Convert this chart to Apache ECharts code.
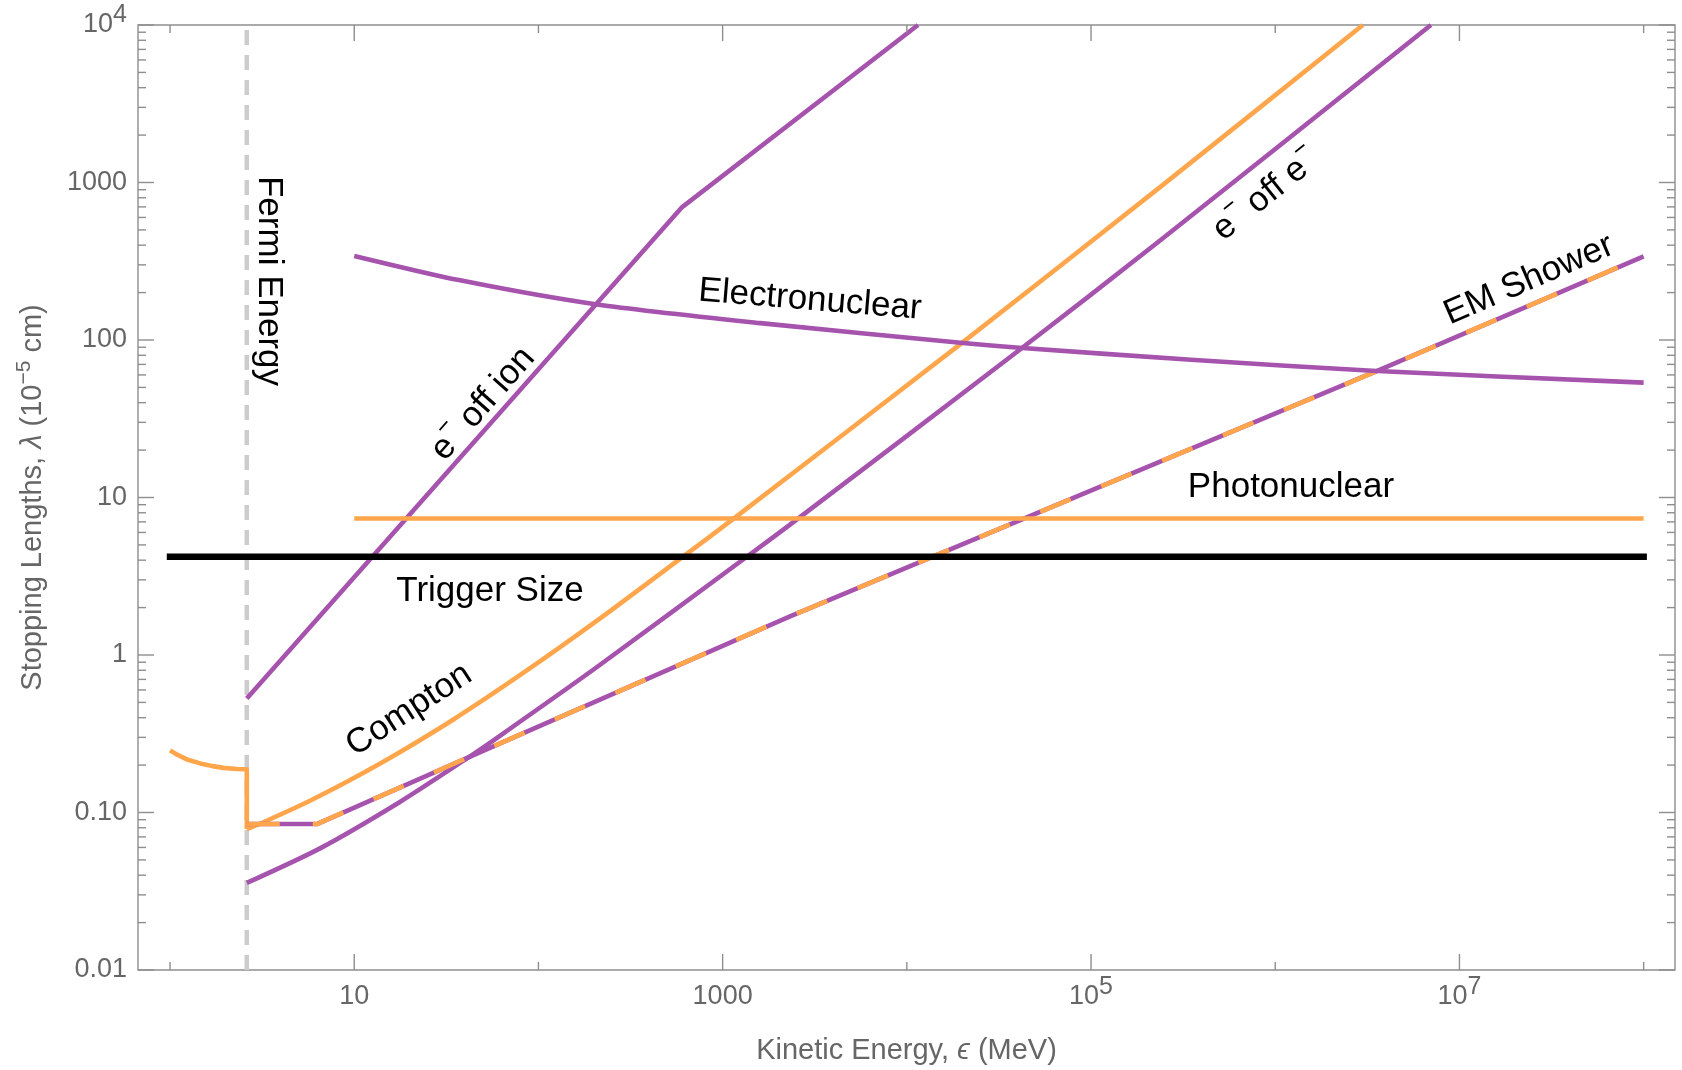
<!DOCTYPE html>
<html>
<head>
<meta charset="utf-8">
<script src="https://cdn.jsdelivr.net/npm/echarts@6/dist/echarts.min.js"></script>
<style>
  html, body { margin: 0; padding: 0; background: #ffffff; }
  #chart { width: 1682px; height: 1070px; }
</style>
</head>
<body>
<div id="chart"></div>
<script>
// Stopping lengths (units of 1e-5 cm) versus kinetic energy (MeV)

// axis extents
const xRange = [0.67, 1.48e8];
const yRange = [0.01, 1e4];

// tick positions and labels
const xMajorTicks = [10, 1000, 1e5, 1e7];
const xMajorLabels = ['10', '1000', '10{sup|5}', '10{sup|7}'];
const xMinorTicks = [1, 100, 1e4, 1e6, 1e8];
const yMajorTicks = [0.01, 0.1, 1, 10, 100, 1000, 1e4];
const yMajorLabels = ['0.01', '0.10', '1', '10', '100', '1000', '10{sup|4}'];
const yMinorMultipliers = [2, 3, 4, 5, 6, 7, 8, 9];

// Fermi energy marker
const fermiEnergy = 2.61;

// trigger size (flat)
const triggerEnergy = [1, 1e8];
const triggerLength = [4.2, 4.2];

// photonuclear (flat)
const photonuclearEnergy = [10, 1e8];
const photonuclearLength = [7.35, 7.35];

// electronuclear
const electronuclearEnergy = [10, 37, 208, 1600, 2.02e4, 4.07e4, 3.49e5, 3.35e6, 1e8];
const electronuclearLength = [342, 240, 168, 128, 95.7, 89.3, 75, 63.8, 53.6];

// e- off ion
const ionEnergy = [2.61, 603, 1.15e4];
const ionLength = [0.53, 698, 1e4];

// photon below the Fermi energy, dropping at the Fermi energy
const photonLowEnergy = [1, 1.1, 1.25, 1.46, 1.7, 1.95, 2.3, 2.61, 2.61];
const photonLowLength = [0.248, 0.232, 0.216, 0.205, 0.197, 0.192, 0.189, 0.188, 0.0785];

// Compton
const comptonEnergy = [2.61, 3.13, 5.86, 14.3, 34.9, 85.3, 208, 582, 1138, 2.05e4, 2.37e5, 2.99e6];
const comptonLength = [0.0785, 0.0855, 0.120, 0.2094, 0.3926, 0.789, 1.652, 4.046, 7.29, 98.4, 935, 1.0e4];

// e- off e-
const eeEnergy = [2.61, 6.52, 17.7, 40, 61.8, 208, 1358, 2323, 4.1e4, 2.37e5, 7.0e6];
const eeLength = [0.0357, 0.0592, 0.1167, 0.2168, 0.307, 0.839, 4.22, 6.73, 86.7, 428, 1.0e4];

// EM shower
const emEnergy = [2.61, 6.27, 85.3, 2323, 3.74e6, 1e8];
const emLength = [0.0845, 0.0845, 0.324, 1.76, 65, 340];

const PURPLE = '#a653ae';
const ORANGE = '#ffa64d';
const FRAME = '#8e8e8e';
const LABEL_GREY = '#666666';
const FONT = '"Liberation Sans", Arial, sans-serif';
const CURVE_W = 4.6;

const pairs = (xs, ys) => xs.map((x, i) => [x, ys[i]]);

// tick records: [x, y, kind, labelIndex]; kind 0 x-major, 1 x-minor, 2 y-major, 3 y-minor
const tickData = [];
xMajorTicks.forEach((v, i) => tickData.push([v, yRange[0], 0, i]));
xMinorTicks.forEach((v) => tickData.push([v, yRange[0], 1, -1]));
yMajorTicks.forEach((v, i) => tickData.push([xRange[0], v, 2, i]));
yMajorTicks.slice(0, -1).forEach((d) => {
  yMinorMultipliers.forEach((m) => tickData.push([xRange[0], m * d, 3, -1]));
});

const tickRich = {
  sup: { fontSize: 25, fontFamily: FONT, color: LABEL_GREY, padding: [0, 0, 20, 0] }
};

function renderTick(params, api) {
  const cs = params.coordSys;
  const kind = api.value(2);
  const idx = api.value(3);
  const p = api.coord([api.value(0), api.value(1)]);
  const len = (kind === 0 || kind === 2) ? 16 : 8;
  const style = { stroke: FRAME, lineWidth: 1.4 };
  const kids = [];
  if (kind < 2) {
    const x = p[0];
    const yb = cs.y + cs.height;
    const yt = cs.y;
    kids.push({ type: 'line', shape: { x1: x, y1: yb, x2: x, y2: yb - len }, style });
    kids.push({ type: 'line', shape: { x1: x, y1: yt, x2: x, y2: yt + len }, style });
    if (kind === 0) {
      kids.push({
        type: 'text', x: x, y: yb + 27,
        style: {
          text: xMajorLabels[idx], fill: LABEL_GREY, font: '27px ' + FONT,
          align: 'center', verticalAlign: 'middle', rich: tickRich
        }
      });
    }
  } else {
    const y = p[1];
    const xl = cs.x;
    const xr = cs.x + cs.width;
    kids.push({ type: 'line', shape: { x1: xl, y1: y, x2: xl + len, y2: y }, style });
    kids.push({ type: 'line', shape: { x1: xr, y1: y, x2: xr - len, y2: y }, style });
    if (kind === 2) {
      kids.push({
        type: 'text', x: xl - 11, y: y,
        style: {
          text: yMajorLabels[idx], fill: LABEL_GREY, font: '27px ' + FONT,
          align: 'right', verticalAlign: 'middle', rich: tickRich
        }
      });
    }
  }
  return { type: 'group', children: kids };
}

function lineSeries(name, data, color, width, extra) {
  return Object.assign({
    name: name,
    type: 'line',
    data: data,
    symbol: 'none',
    clip: true,
    silent: true,
    lineStyle: { color: color, width: width, cap: 'butt', join: 'round' }
  }, extra || {});
}

const smoothCurve = { smooth: 0.25 };

const annotationRich = {
  sup: { fontSize: 24, fontFamily: FONT, color: '#000', padding: [0, 0, 28, 0] }
};

function annotation(text, x, y, deg) {
  return {
    type: 'text',
    x: x, y: y,
    rotation: deg * Math.PI / 180,
    silent: true,
    z: 100,
    style: {
      text: text, fill: '#000', font: '35px ' + FONT,
      align: 'center', verticalAlign: 'middle', rich: annotationRich
    }
  };
}

const chart = echarts.init(document.getElementById('chart'), null, { renderer: 'canvas' });

chart.setOption({
  animation: false,
  backgroundColor: '#ffffff',
  grid: {
    left: 138, top: 25, width: 1537, height: 951,
    show: true, borderColor: FRAME, borderWidth: 1.4, backgroundColor: 'transparent'
  },
  xAxis: {
    type: 'log', logBase: 10, min: xRange[0], max: xRange[1],
    axisLine: { show: false }, axisTick: { show: false },
    axisLabel: { show: false }, splitLine: { show: false },
    name: 'Kinetic Energy, {it|ϵ} (MeV)',
    nameLocation: 'middle', nameGap: 66,
    nameTextStyle: {
      fontSize: 29, fontFamily: FONT, color: LABEL_GREY,
      rich: { it: { fontSize: 29, fontFamily: FONT, color: LABEL_GREY, fontStyle: 'italic' } }
    }
  },
  yAxis: {
    type: 'log', logBase: 10, min: yRange[0], max: yRange[1],
    axisLine: { show: false }, axisTick: { show: false },
    axisLabel: { show: false }, splitLine: { show: false },
    name: 'Stopping Lengths, {it|λ} (10{sup|−5} cm)',
    nameLocation: 'middle', nameGap: 87,
    nameTextStyle: {
      fontSize: 29, fontFamily: FONT, color: LABEL_GREY,
      rich: {
        it: { fontSize: 29, fontFamily: FONT, color: LABEL_GREY, fontStyle: 'italic' },
        sup: { fontSize: 21, fontFamily: FONT, color: LABEL_GREY, padding: [0, 0, 16, 0] }
      }
    }
  },
  series: [
    lineSeries('Fermi Energy', pairs([fermiEnergy, fermiEnergy], yRange), '#cccccc', 4.5,
      { lineStyle: { color: '#cccccc', width: 4.5, type: [15, 10], cap: 'butt' } }),
    lineSeries('e- off ion', pairs(ionEnergy, ionLength), PURPLE, CURVE_W),
    lineSeries('Photon below Fermi', pairs(photonLowEnergy, photonLowLength), ORANGE, CURVE_W),
    lineSeries('Compton', pairs(comptonEnergy, comptonLength), ORANGE, CURVE_W, smoothCurve),
    lineSeries('e- off e-', pairs(eeEnergy, eeLength), PURPLE, CURVE_W, smoothCurve),
    lineSeries('EM Shower', pairs(emEnergy, emLength), PURPLE, CURVE_W),
    lineSeries('EM Shower (photon)', pairs(emEnergy, emLength), ORANGE, CURVE_W,
      { lineStyle: { color: ORANGE, width: CURVE_W, type: [33, 33], cap: 'butt', join: 'round' } }),
    lineSeries('Electronuclear', pairs(electronuclearEnergy, electronuclearLength), PURPLE, CURVE_W, smoothCurve),
    lineSeries('Photonuclear', pairs(photonuclearEnergy, photonuclearLength), ORANGE, CURVE_W),
    lineSeries('Trigger Size', pairs(triggerEnergy, triggerLength), '#000000', 6.5,
      { lineStyle: { color: '#000000', width: 6.5, cap: 'square' } }),
    {
      name: 'ticks',
      type: 'custom',
      renderItem: renderTick,
      data: tickData,
      encode: { x: 0, y: 1 },
      clip: false,
      silent: true,
      z: 50
    }
  ],
  graphic: [
    annotation('Fermi Energy', 269, 281, -90),
    annotation('e{sup|−} off ion', 483, 404, 48.6),
    annotation('Electronuclear', 810, 300, -4.7),
    annotation('Compton', 409, 710, 33),
    annotation('Trigger Size', 490, 591, 0),
    annotation('Photonuclear', 1291, 487, 0),
    annotation('e{sup|−} off e{sup|−}', 1266, 195, 38.6),
    annotation('EM Shower', 1529, 280, 23.4)
  ]
});
</script>
</body>
</html>
